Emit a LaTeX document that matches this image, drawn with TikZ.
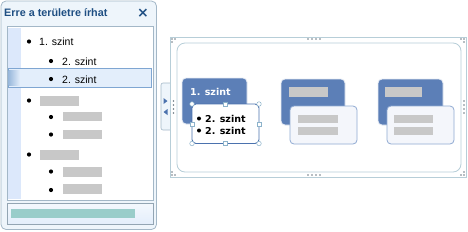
\documentclass[tikz,border=0pt]{standalone}
\usepackage{fontspec}
\setmainfont{Liberation Sans}
\newfontfamily\dvs{DejaVu Sans}
\begin{document}
\begin{tikzpicture}[x=1pt,y=-1pt,
  pane/.style={draw=paneborder,fill=panebg,rounded corners=5pt,line width=0.8pt},
  graybar/.style={fill=placegray,draw=none},
  bul/.style={circle,fill=black,inner sep=0pt,minimum size=4.2pt},
  lvl/.style={anchor=west,inner sep=0pt,font=\fontsize{10.5}{12}\selectfont},
  blk/.style={fill=blkblue,draw=white!85!blkblue,rounded corners=4pt,line width=0.8pt},
  child/.style={fill=white,draw=childborder,rounded corners=4pt,line width=0.9pt},
  fchild/.style={fill=faint,draw=faintborder,rounded corners=4pt,line width=0.8pt},
  hcorner/.style={circle,draw=handleborder,fill=white,inner sep=0pt,minimum size=4.5pt,line width=0.5pt},
  hside/.style={rectangle,draw=handleborder,fill=white,inner sep=0pt,minimum size=4pt,line width=0.5pt},
  dgt/.style={fill=dotgray,draw=none},
  dtxt/.style={anchor=west,inner sep=0pt,font=\dvs\bfseries\fontsize{9.5}{12}\selectfont}
]
\definecolor{paneborder}{HTML}{A3B7C7}
\definecolor{panebg}{HTML}{EEF5FB}
\definecolor{placegray}{HTML}{C8C8C8}
\definecolor{blkblue}{HTML}{5C7FB7}
\definecolor{childborder}{HTML}{4B72AE}
\definecolor{faint}{HTML}{F4F6FB}
\definecolor{faintborder}{HTML}{8FAAD3}
\definecolor{handleborder}{HTML}{8DB3CB}
\definecolor{titleblue}{HTML}{1F4F83}
\definecolor{stripblue}{HTML}{DCE8FB}
\definecolor{selfill}{HTML}{E3EEFB}
\definecolor{selborder}{HTML}{7FA6D2}
\definecolor{teal}{HTML}{99CDCA}
\definecolor{framebd}{HTML}{B7CED8}
\definecolor{dotgray}{HTML}{707C86}
\useasboundingbox (0,0) rectangle (468,231);
% ---------- left pane ----------
\path[pane] (1,1) rectangle (156.5,229.5);
\node[anchor=west,inner sep=0pt,text=titleblue,font=\bfseries\fontsize{10.8}{12}\selectfont] (title) at (4,13) {Erre a területre írhat};
\node[inner sep=0pt,text=titleblue,font=\dvs\bfseries\fontsize{14}{14}\selectfont] (close) at (143,13) {×};
\path[fill=white,draw=paneborder,line width=0.7pt] (7,26.5) rectangle (153,200);
\path[fill=stripblue] (8,27.5) rectangle (21,198.5);
\path[fill=selfill,draw=selborder,line width=0.7pt] (8,68) rectangle (151,87);
\path[left color=selborder!80,right color=selfill] (8.5,70) rectangle (20,85);
% rows
\node[bul] (b1) at (29,41.5) {};
\node[lvl] (t1) at (39,42) {1. szint};
\node[bul] (b2) at (51,61) {};
\node[lvl] (t2) at (62,61.5) {2. szint};
\node[bul] (b3) at (51,79) {};
\node[lvl] (t3) at (62,79.5) {2. szint};
\node[bul] (b4) at (29,100.5) {};
\path[graybar] (40,96) rectangle (79,105.5);
\node[bul] (b5) at (51,117) {};
\path[graybar] (63,112) rectangle (102,121);
\node[bul] (b6) at (51,134.5) {};
\path[graybar] (63,130) rectangle (102,139);
\node[bul] (b7) at (29,154.5) {};
\path[graybar] (40,150) rectangle (79,159.5);
\node[bul] (b8) at (51,171.5) {};
\path[graybar] (63,167) rectangle (102,177);
\node[bul] (b9) at (51,190) {};
\path[graybar] (63,184) rectangle (102,194);
% bottom bar
\path[top color=white!60!selfill,bottom color=selfill,draw=paneborder!90!black,line width=0.7pt] (7,203.5) rectangle (153,224);
\path[fill=teal] (11,209) rectangle (135,218);
% ---------- toggle tab ----------
\path[fill=panebg,draw=paneborder,rounded corners=2pt,line width=0.6pt] (172,83) -- (161,83) -- (161,130) -- (172,130);
\path[fill=childborder] (163.5,98) -- (167.5,101) -- (163.5,104) -- cycle;
\path[fill=childborder] (167.5,109) -- (163.5,112) -- (167.5,115) -- cycle;
% ---------- diagram frame ----------
\path[draw=framebd,fill=white,line width=0.8pt] (170,37) rectangle (466,177);
\path[draw=framebd,line width=0.8pt,rounded corners=8pt] (177,43) rectangle (461,172);
% handles of frame
\foreach \xx in {308,312,316,320} {\path[dgt] (\xx,39) circle (0.9); \path[dgt] (\xx,175) circle (0.9);}
\foreach \yy in {101,105,109,113} {\path[dgt] (173.5,\yy) circle (0.9); \path[dgt] (464,\yy) circle (0.9);}
\foreach \cx/\cy in {172/39,175/39,172/42, 464/39,461/39,464/42, 172/175,175/175,172/172, 464/175,461/175,464/172} {\path[dgt] (\cx,\cy) circle (0.8);}
% ---------- block 3 ----------
\path[blk] (378,79) rectangle (443,125);
\path[graybar] (385,87) rectangle (422,97);
\path[fchild] (387,106) rectangle (454,144);
\path[graybar] (394,115) rectangle (433,123);
\path[graybar] (394,127) rectangle (433,135);
% ---------- block 2 ----------
\path[blk] (281,79) rectangle (345,125);
\path[graybar] (289,87) rectangle (328,97);
\path[fchild] (290,106) rectangle (357,144);
\path[graybar] (298,115) rectangle (338,123);
\path[graybar] (298,127) rectangle (338,135);
% ---------- block 1 ----------
\path[blk] (182,78) rectangle (247,124);
\node[dtxt,text=white] (p1) at (190,91.5) {1. szint};
\path[child] (192,104) rectangle (259,143.5);
\node[bul,minimum size=4pt] (cb1) at (199,118.5) {};
\node[dtxt] (c1) at (205,118.5) {2. szint};
\node[bul,minimum size=4pt] (cb2) at (199,130.5) {};
\node[dtxt] (c2) at (205,130.5) {2. szint};
% selection handles
\node[hcorner] (h1) at (192,104) {};
\node[hcorner] (h2) at (259,104) {};
\node[hcorner] (h3) at (192,143.5) {};
\node[hcorner] (h4) at (259,143.5) {};
\node[hside] (h5) at (225.5,104) {};
\node[hside] (h6) at (225.5,143.5) {};
\node[hside] (h7) at (192,124) {};
\node[hside] (h8) at (259,124) {};
\end{tikzpicture}
\end{document}
